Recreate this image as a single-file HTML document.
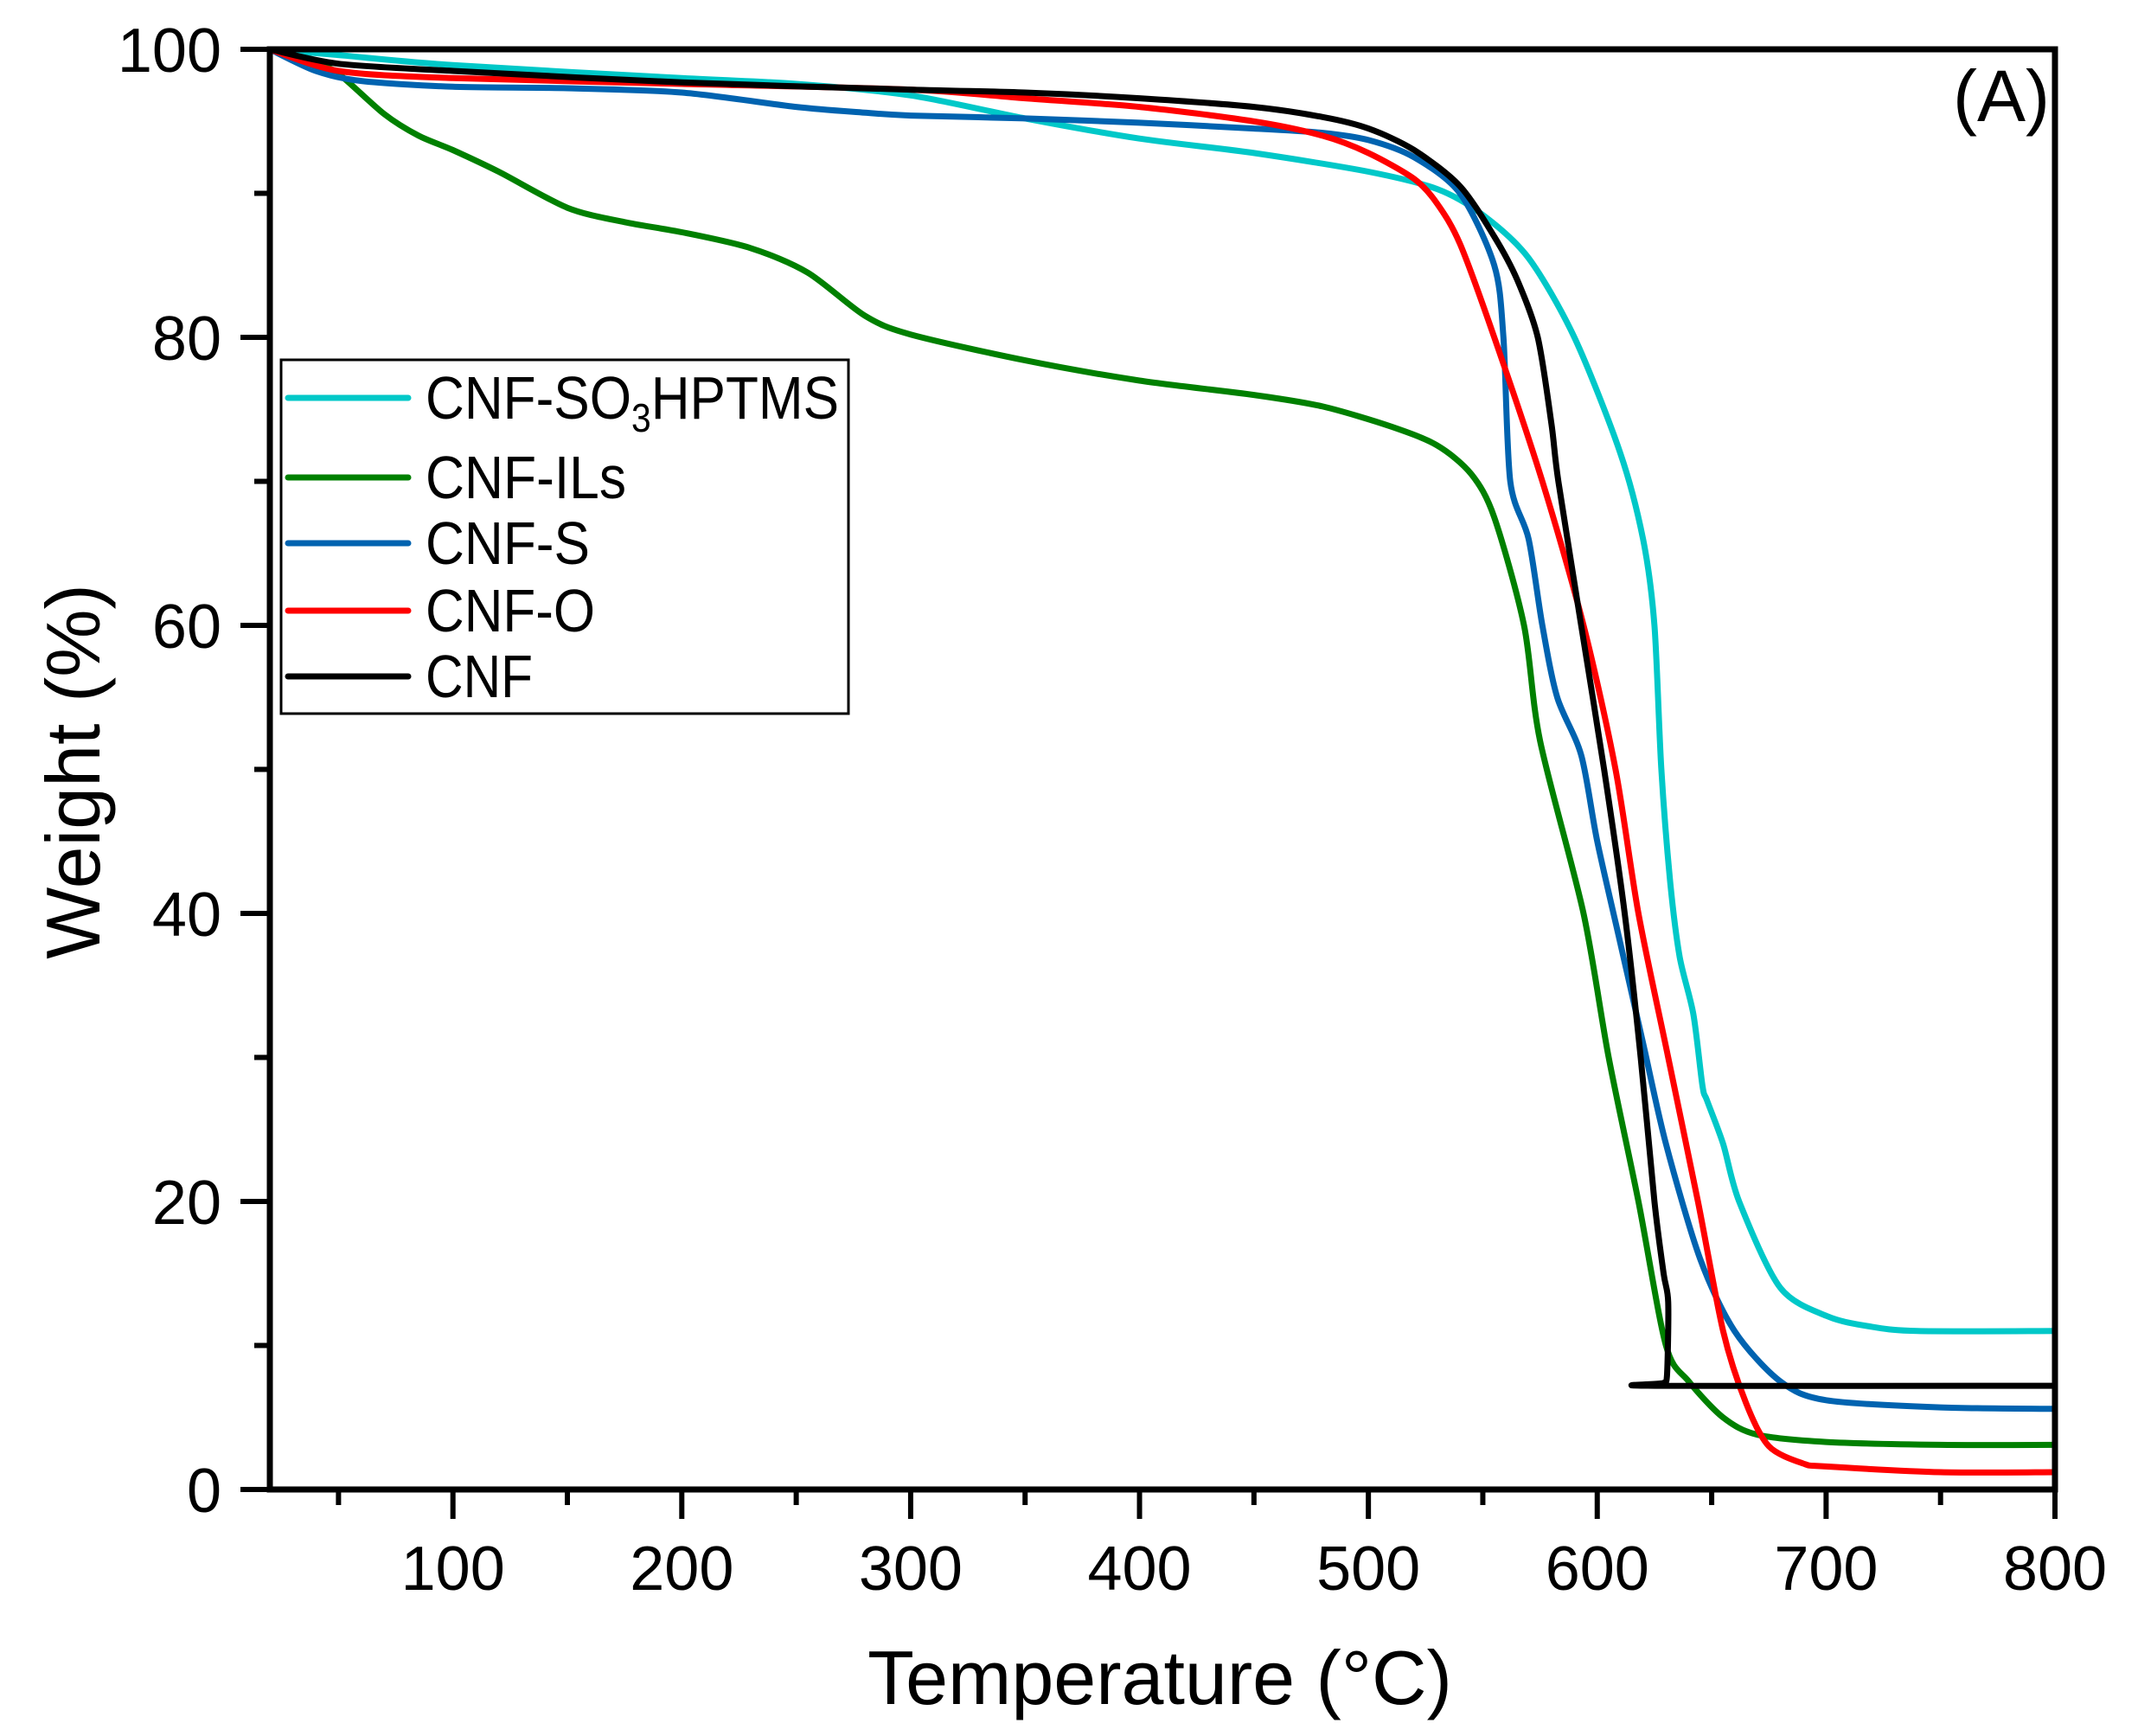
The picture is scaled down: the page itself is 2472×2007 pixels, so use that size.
<!DOCTYPE html>
<html><head><meta charset="utf-8"><style>
html,body{margin:0;padding:0;background:#fff}
svg{display:block;font-family:"Liberation Sans",Arial,sans-serif}
</style></head><body>
<svg id="chart" width="2472" height="2007" viewBox="0 0 2472 2007">
<g id="curves"></g>
<g id="axes"></g>
</svg>
<script>
const xTicks=[100,200,300,400,500,600,700,800];
const yTicks=[0,20,40,60,80,100];
const seriesNames=["CNF-SO3HPTMS","CNF-ILs","CNF-S","CNF-O","CNF"];
const seriesColors=["#00c8c8","#008000","#0063b0","#ff0000","#000000"];
const sT_cyan=[20,50,100,200,250,300,350,400,450,500,530,550,570,590,610,620,625,628,632,636,642,646,648,655,662,680,701,720,740,800];
const sW_cyan=[100,99.6,98.9,98,97.6,96.8,95.2,93.8,92.8,91.5,90.3,88.5,85.5,80,72,66,60,50,42,37,33,28,27,24,20,14,12,11.3,11,11];
const sT_green=[20,40,50,70,85,100,120,150,175,200,230,255,280,300,350,400,450,480,510,530,545,555,568,575,594,605,618,630,640,655,670,700,750,800];
const sW_green=[100,99,98.3,95.5,94,93,91.5,89,88,87.3,86.2,84.5,81.5,80.2,78.4,77,76,75.2,73.8,72.5,70.5,67.5,60,52,40,30,20,10,7.5,5,3.8,3.3,3.1,3.1];
const sT_blue=[20,40,60,100,150,200,250,280,300,350,400,450,480,500,520,540,555,559,562,570,576,582.5,593,600,610,620,630,645,660,680,700,750,800];
const sW_blue=[100,98.5,97.8,97.4,97.3,97,96,95.6,95.4,95.2,94.9,94.5,94.2,93.7,92.5,90,85,80,70,66,60,55,51,45,38,31,24,16,11,7.5,6.2,5.7,5.6];
const sT_red=[20,50,100,200,300,350,400,450,480,500,520,530,540,555,576,594,608,618,631,644,655,665,675,690,700,750,800];
const sW_red=[100,98.5,98,97.6,97.2,96.6,96,95,94,92.8,91,89.3,86.5,80,70,60,50,40,30,20,11,6,3,1.8,1.6,1.2,1.2];
const sT_black=[20,50,100,200,300,350,400,450,480,500,520,540,555,565,574,580,583,593,603,612,619,625,629,631,630.5,629,625,800];
const sW_black=[100,99,98.5,97.7,97.2,97,96.6,96,95.3,94.5,93,90.5,87,84,80,74,70,60,50,40,30,20,15,13,8,7.4,7.2,7.2];
const seriesT=[sT_cyan,sT_green,sT_blue,sT_red,sT_black];
const seriesW=[sW_cyan,sW_green,sW_blue,sW_red,sW_black];

const L=312,R=2376,T=57,B=1722,XMIN=20,XMAX=800,YMIN=0,YMAX=100;
const xs=v=>L+(v-XMIN)/(XMAX-XMIN)*(R-L);
const ys=v=>B-(v-YMIN)/(YMAX-YMIN)*(B-T);
const NS="http://www.w3.org/2000/svg";
function mk(tag,attrs,parent){const e=document.createElementNS(NS,tag);for(const k in attrs)e.setAttribute(k,attrs[k]);parent.appendChild(e);return e;}
function smoothPath(P){
  let d='M'+P[0][0].toFixed(1)+','+P[0][1].toFixed(1);
  const k=1/7;
  for(let i=0;i<P.length-1;i++){
    const p0=P[Math.max(0,i-1)],p1=P[i],p2=P[i+1],p3=P[Math.min(P.length-1,i+2)];
    const c1=[p1[0]+(p2[0]-p0[0])*k,p1[1]+(p2[1]-p0[1])*k];
    const c2=[p2[0]-(p3[0]-p1[0])*k,p2[1]-(p3[1]-p1[1])*k];
    d+=' C'+c1[0].toFixed(1)+','+c1[1].toFixed(1)+' '+c2[0].toFixed(1)+','+c2[1].toFixed(1)+' '+p2[0].toFixed(1)+','+p2[1].toFixed(1);
  }
  return d;
}
const curves=document.getElementById('curves');
const axes=document.getElementById('axes');
for(let i=0;i<seriesT.length;i++){
  const pts=seriesT[i].map((t,j)=>[xs(t),ys(seriesW[i][j])]);
  const p=mk('path',{d:smoothPath(pts),fill:'none',stroke:seriesColors[i],'stroke-width':7,'stroke-linejoin':'round','stroke-linecap':'round'},curves);
  
  
}
const fr=mk('rect',{x:L,y:T,width:R-L,height:B-T,fill:'none',stroke:'#000','stroke-width':7},axes);


for(let v=50;v<=800;v+=50){
  const major=v%100===0;
  const t=mk('line',{x1:xs(v),x2:xs(v),y1:B,y2:B+(major?34:18),stroke:'#000','stroke-width':6},axes);
  
  
}
xTicks.forEach(v=>{
  const t=mk('text',{x:xs(v),y:1838,'font-size':72,'text-anchor':'middle',fill:'#000'},axes);
  t.textContent=v;
  
  
});
for(let v=0;v<=100;v+=10){
  const major=v%20===0;
  const t=mk('line',{x1:L,x2:L-(major?34:18),y1:ys(v),y2:ys(v),stroke:'#000','stroke-width':6},axes);
  
  
}
yTicks.forEach(v=>{
  const t=mk('text',{x:256,y:ys(v)+26,'font-size':72,'text-anchor':'end',fill:'#000'},axes);
  t.textContent=v;
  
  
});
</script>
<svg style="position:absolute;left:0;top:0" width="2472" height="2007">
<text x="1341" y="1970" font-size="88" text-anchor="middle" font-family="Liberation Sans, sans-serif">Temperature (°C)</text>
<text transform="translate(115,892) rotate(-90)" font-size="88" text-anchor="middle" font-family="Liberation Sans, sans-serif">Weight (%)</text>
<text x="2370" y="140" font-size="84" text-anchor="end" font-family="Liberation Sans, sans-serif">(A)</text>
<g font-family="Liberation Sans, sans-serif" font-size="70">
<rect x="325" y="416" width="656" height="409" fill="#fff" stroke="#000" stroke-width="3"/>
<g><line x1="333" x2="472" y1="460" y2="460" stroke="#00c8c8" stroke-width="7" stroke-linecap="round"/><text x="492" y="484" textLength="478" lengthAdjust="spacingAndGlyphs">CNF-SO<tspan font-size="46" dy="15">3</tspan><tspan dy="-15">HPTMS</tspan></text></g>
<g><line x1="333" x2="472" y1="552" y2="552" stroke="#008000" stroke-width="7" stroke-linecap="round"/><text x="492" y="576" textLength="232" lengthAdjust="spacingAndGlyphs">CNF-ILs</text></g>
<g><line x1="333" x2="472" y1="628" y2="628" stroke="#0063b0" stroke-width="7" stroke-linecap="round"/><text x="492" y="652" textLength="190" lengthAdjust="spacingAndGlyphs">CNF-S</text></g>
<g><line x1="333" x2="472" y1="706" y2="706" stroke="#ff0000" stroke-width="7" stroke-linecap="round"/><text x="492" y="730" textLength="196" lengthAdjust="spacingAndGlyphs">CNF-O</text></g>
<g><line x1="333" x2="472" y1="782" y2="782" stroke="#000" stroke-width="7" stroke-linecap="round"/><text x="492" y="806" textLength="124" lengthAdjust="spacingAndGlyphs">CNF</text></g>
</g>
</svg>
</body></html>
